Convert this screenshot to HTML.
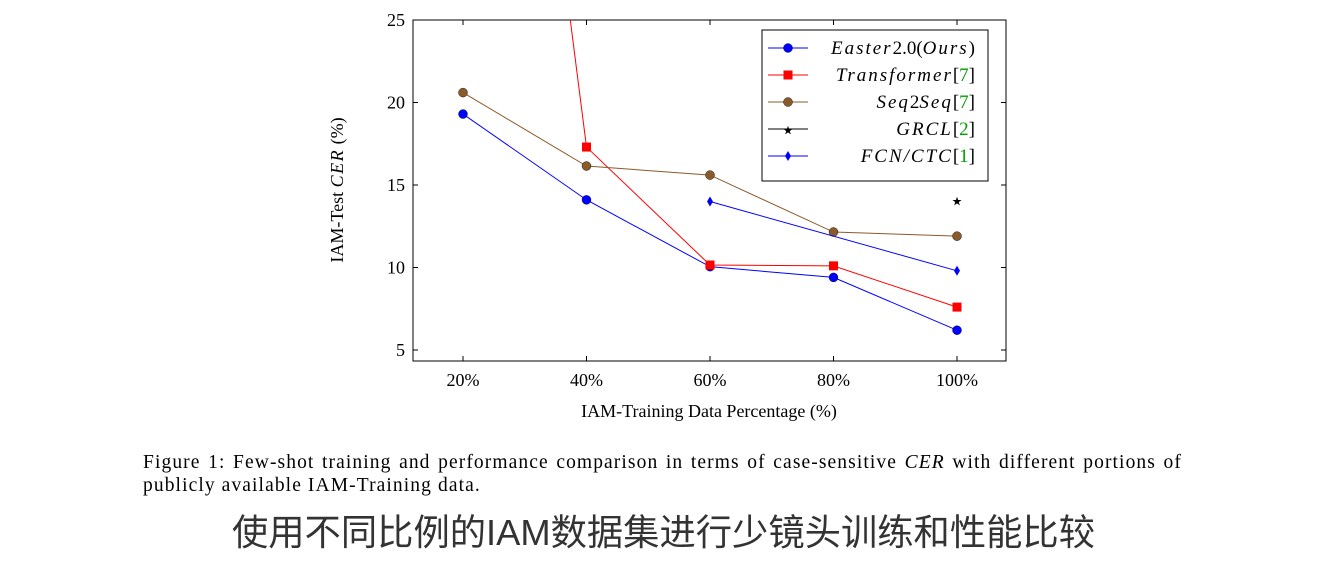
<!DOCTYPE html>
<html><head><meta charset="utf-8"><style>
body{margin:0;background:#fff;width:1327px;height:561px;overflow:hidden;position:relative;font-family:"Liberation Serif",serif}
.cap{position:absolute;left:143px;top:451px;font-size:19.5px;line-height:23px;color:#000;width:1039px;letter-spacing:1.1px}
.l1{text-align:justify;text-align-last:justify;white-space:normal}
.zh{position:absolute;left:0;width:1327px;top:504px;text-align:center;font-family:"Liberation Sans","Noto Sans CJK SC",sans-serif;font-size:36.3px;color:#333}
</style></head><body>
<svg id="chart" width="1327" height="440" style="position:absolute;left:0;top:0" font-family="Liberation Serif, serif"></svg>
<div class="cap"><div class="l1">Figure 1: Few-shot training and performance comparison in terms of case-sensitive <i>CER</i> with different portions of</div><div>publicly available IAM-Training data.</div></div>
<div class="zh">使用不同比例的IAM数据集进行少镜头训练和性能比较</div>
<script>
const categories=["20%","40%","60%","80%","100%"];
const yTicks=[5,10,15,20,25];
const easter=[19.3,14.1,10.05,9.4,6.2];
const transformer=[76,17.3,10.15,10.1,7.6];
const seq2seq=[20.6,16.15,15.6,12.15,11.9];
const grcl=[null,null,null,null,14.1];
const fcn=[null,null,14.0,null,9.8];
const NS="http://www.w3.org/2000/svg";
const svg=document.getElementById('chart');
const L=413,R=1006,T=20,B=361;
const xs=i=>463+i*123.5;
const ys=v=>350-(v-5)*16.5;
function mk(t,a,p){const e=document.createElementNS(NS,t);for(const k in a)e.setAttribute(k,a[k]);(p||svg).appendChild(e);return e;}
const defs=mk('defs',{});const cp=mk('clipPath',{id:'c'},defs);mk('rect',{x:L,y:T,width:R-L,height:B-T},cp);
const frame=mk('rect',{x:L,y:T,width:R-L,height:B-T,fill:'none',stroke:'#000','stroke-width':1});


yTicks.forEach(v=>{const y=ys(v);
mk('line',{x1:L,x2:L+5,y1:y,y2:y,stroke:'#000'});mk('line',{x1:R,x2:R-5,y1:y,y2:y,stroke:'#000'});
const t=mk('text',{x:L-8,y:y+6,'text-anchor':'end','font-size':18});t.textContent=v;

});
categories.forEach((c,i)=>{const x=xs(i);
mk('line',{x1:x,x2:x,y1:B,y2:B-5,stroke:'#000'});mk('line',{x1:x,x2:x,y1:T,y2:T+5,stroke:'#000'});
const t=mk('text',{x:x,y:B+25,'text-anchor':'middle','font-size':18});t.textContent=c;

});
const xt=mk('text',{x:709,y:417,'text-anchor':'middle','font-size':18});xt.textContent='IAM-Training Data Percentage (%)';


const yt=mk('text',{transform:'translate(343,190) rotate(-90)','text-anchor':'middle','font-size':18});yt.innerHTML='IAM-Test <tspan font-style="italic" letter-spacing="1.5">CER</tspan> (%)';


function marker(g,type,x,y,col){
 if(type==='c')mk('circle',{cx:x,cy:y,r:4.5,fill:col,stroke:'#000','stroke-width':0.4},g);
 else if(type==='s')mk('rect',{x:x-4.5,y:y-4.5,width:9,height:9,fill:col},g);
 else if(type==='d')mk('polygon',{points:`${x},${y-5} ${x+3},${y} ${x},${y+5} ${x-3},${y}`,fill:col},g);
 else {const t=mk('text',{x:x,y:y+9,'text-anchor':'middle','font-size':24,fill:col},g);t.textContent='⋆';}
}
const series=[[easter,'#0000ff','c','easter'],[transformer,'#ff0000','s','transformer'],[seq2seq,'#8b5a2b','c','seq2seq'],[grcl,'#000','x','grcl'],[fcn,'#0000ff','d','fcn']];
series.forEach(([d,col,m,n])=>{const g=mk('g',{'clip-path':'url(#c)'});


const pts=d.map((v,i)=>v==null?null:[xs(i),ys(v)]).filter(p=>p);
if(pts.length>1)mk('polyline',{points:pts.map(p=>p.join(',')).join(' '),fill:'none',stroke:col,'stroke-width':1},g);
pts.forEach(p=>marker(g,m,p[0],p[1],col));});
const lg=mk('g',{});


mk('rect',{x:762,y:30,width:226,height:151,fill:'#fff',stroke:'#000'},lg);
const labels=[['Easter','2.0(','Ours',')',''],['Transformer','','','','7'],['Seq','2','Seq','','7'],['GRCL','','','','2'],['FCN/CTC','','','','1']];
series.forEach(([d,col,m,n],i)=>{const y=48+i*27;
const g=mk('g',{},lg);


mk('line',{x1:768,x2:808,y1:y,y2:y,stroke:col},g);
marker(g,m,788,y,col);
const lb=labels[i];
const t=mk('text',{x:975,y:y+6,'text-anchor':'end','font-size':19},g);
t.innerHTML='<tspan font-style="italic" letter-spacing="2">'+lb[0]+'</tspan>'+(lb[1]?'<tspan>'+lb[1]+'</tspan>':'')+(lb[2]?'<tspan font-style="italic" letter-spacing="2">'+lb[2]+'</tspan>':'')+lb[3]+(lb[4]?'[<tspan fill="#00a000">'+lb[4]+'</tspan>]':'');});
</script>
</body></html>
